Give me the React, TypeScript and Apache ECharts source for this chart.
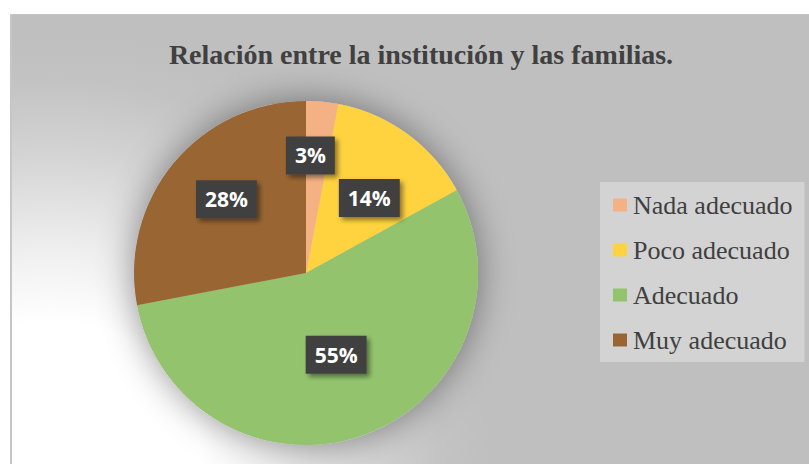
import React, { useEffect, useRef } from "react";
import * as echarts from "echarts";

const titleText = "Relación entre la institución y las familias.";
const categories = ["Nada adecuado", "Poco adecuado", "Adecuado", "Muy adecuado"];
const values = [3, 14, 55, 28];
const colors = ["#F4B183", "#FFD240", "#93C46D", "#996633"];
// small nudges to mimic the original "best fit" label placement
const labelNudges: Record<string, [number, number]> = {
  "Nada adecuado": [-4, -29],
  "Poco adecuado": [11, -3],
  Adecuado: [0, -2],
  "Muy adecuado": [-11, -17],
};

export default function App() {
  const ref = useRef<HTMLDivElement>(null);
  useEffect(() => {
    if (!ref.current) return;
    const chart = echarts.init(ref.current, undefined, { renderer: "svg" });
    const center = [306, 273];
    const radius = 172;
    chart.setOption({
      animation: false,
      backgroundColor: "transparent",
      title: {
        text: titleText,
        left: 416,
        top: 35,
        textAlign: "center",
        textStyle: {
          fontFamily: "Liberation Serif",
          fontWeight: "bold",
          fontSize: 28,
          color: "#404040",
        },
      },
      legend: {
        data: categories,
        orient: "vertical",
        left: 600,
        top: 182,
        backgroundColor: "#d3d3d3",
        padding: [10, 12, 9, 13],
        itemGap: 19,
        itemWidth: 14,
        itemHeight: 13,
        icon: "rect",
        itemStyle: { borderWidth: 0 },
        textStyle: {
          fontFamily: "Liberation Serif",
          fontSize: 26,
          color: "#404040",
          padding: [0, 0, 0, 1],
        },
      },
      series: [
        {
          type: "pie",
          silent: true,
          center,
          radius,
          data: [{ value: 1, name: "__shadow" }],
          label: { show: false },
          labelLine: { show: false },
          itemStyle: {
            color: "#bfbfbf",
            shadowBlur: 36,
            shadowColor: "rgba(0,0,0,0.42)",
          },
          z: 1,
        },
        {
          type: "pie",
          center,
          radius,
          startAngle: 90,
          clockwise: true,
          z: 2,
          data: categories.map((name, i) => ({
            name,
            value: values[i],
            itemStyle: { color: colors[i] },
            label: { offset: labelNudges[name] },
          })),
          label: {
            show: true,
            position: "inside",
            formatter: "{d}%",
            color: "#ffffff",
            fontFamily: "Open Sans",
            fontWeight: "bold",
            fontSize: 21,
            backgroundColor: "#404040",
            padding: [9, 9, 8, 9],
            shadowBlur: 5,
            shadowOffsetX: 3,
            shadowOffsetY: 3,
            shadowColor: "rgba(0,0,0,0.45)",
          },
          labelLine: { show: false },
          itemStyle: { borderWidth: 0 },
          emphasis: { disabled: true },
        },
      ],
    });
    return () => chart.dispose();
  }, []);

  return (
    <div
      style={{
        position: "fixed",
        left: 0,
        top: 0,
        width: 809,
        height: 464,
        background: "#ffffff",
        overflow: "hidden",
      }}
    >
      <div
        style={{
          position: "absolute",
          left: 10,
          top: 14,
          width: 830,
          height: 480,
          boxSizing: "border-box",
          borderLeft: "2px solid #c6c6c6",
          borderTop: "1px solid #c6c6c6",
          background:
            "radial-gradient(circle at 40px 456px, #ffffff 0px, #ffffff 150px, #eeeeee 225px, #d3d3d3 320px, #c3c3c3 390px, #bfbfbf 440px)",
        }}
      />
      <div
        ref={ref}
        style={{ position: "absolute", left: 0, top: 0, width: 809, height: 464 }}
      />
    </div>
  );
}
